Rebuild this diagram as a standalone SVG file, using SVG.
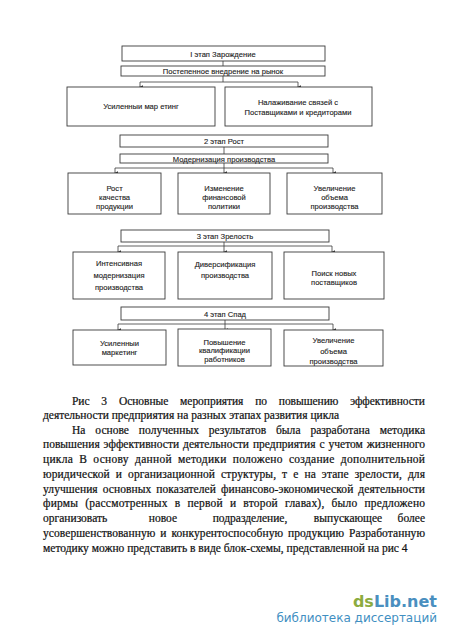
<svg xmlns="http://www.w3.org/2000/svg" width="450" height="639" viewBox="0 0 450 639">
<defs>
<style>
.bx{fill:#fff;stroke:#3a3a3a;stroke-width:0.9}
.ln{fill:none;stroke:#3a3a3a;stroke-width:0.8}
.t{font-family:"Liberation Sans",Arial,sans-serif;font-size:7.6px;fill:#222;stroke:#222;stroke-width:0.12;text-anchor:middle}
.b{font-family:"Liberation Serif","Times New Roman",serif;font-size:11.5px;fill:#111;stroke:#111;stroke-width:0.22}
.wm1{font-family:"DejaVu Sans",sans-serif;font-size:16px;font-weight:bold}
.wm2{font-family:"DejaVu Sans",sans-serif;font-size:12px;fill:#3f8fc2}
</style>
<marker id="ar" viewBox="0 0 6 6" refX="3" refY="5" markerWidth="4" markerHeight="4" orient="auto-start-reverse" markerUnits="userSpaceOnUse">
<path d="M0,0 L6,0 L3,6 z" fill="#333"/>
</marker>
</defs>
<rect width="450" height="639" fill="#fff"/>

<g id="connectors">
<path class="ln" d="M223,61 V66"/>
<path class="ln" d="M223,76 V82 M140,82 H298"/>
<path class="ln" d="M140,82 V87" marker-end="url(#ar)"/>
<path class="ln" d="M298,82 V87" marker-end="url(#ar)"/>

<path class="ln" d="M224,147 V154"/>
<path class="ln" d="M224,163 V168 M115,168 H333"/>
<path class="ln" d="M115,168 V173" marker-end="url(#ar)"/>
<path class="ln" d="M224,168 V173" marker-end="url(#ar)"/>
<path class="ln" d="M333,168 V173" marker-end="url(#ar)"/>

<path class="ln" d="M224,242 V246 M118,246 H332"/>
<path class="ln" d="M118,246 V252" marker-end="url(#ar)"/>
<path class="ln" d="M224,246 V252" marker-end="url(#ar)"/>
<path class="ln" d="M332,246 V252" marker-end="url(#ar)"/>

<path class="ln" d="M225,320 V324 M118,324 H333"/>
<path class="ln" d="M118,324 V330" marker-end="url(#ar)"/>
<path class="ln" d="M225,324 V330" marker-end="url(#ar)"/>
<path class="ln" d="M333,324 V330" marker-end="url(#ar)"/>
</g>

<g id="stage1">
<rect class="bx" x="122" y="46" width="203" height="15"/>
<text class="t" x="223" y="56.5">I этап  Зарождение</text>
</g>
<g id="market-entry">
<rect class="bx" x="121" y="66" width="204" height="10"/>
<text class="t" x="223" y="73.8">Постепенное внедрение на рынок</text>
</g>
<g id="s1-marketing">
<rect class="bx" x="67" y="87" width="148" height="39"/>
<text class="t" x="141" y="109">Усиленныи мар етинг</text>
</g>
<g id="s1-relations">
<rect class="bx" x="225" y="87" width="147" height="39"/>
<text class="t" x="298" y="104.5">Налаживание связей с</text>
<text class="t" x="298" y="115">Поставщиками и кредиторами</text>
</g>

<g id="stage2">
<rect class="bx" x="120" y="135" width="208" height="12"/>
<text class="t" x="224" y="144">2 этап  Рост</text>
</g>
<g id="modernization">
<rect class="bx" x="120" y="154" width="208" height="9"/>
<text class="t" x="224" y="161.5">Модернизация производства</text>
</g>
<g id="s2-quality">
<rect class="bx" x="68" y="173" width="93" height="41"/>
<text class="t" x="114.5" y="191">Рост</text>
<text class="t" x="114.5" y="200">качества</text>
<text class="t" x="114.5" y="209">продукции</text>
</g>
<g id="s2-finance">
<rect class="bx" x="178" y="173" width="92" height="41"/>
<text class="t" x="224" y="191">Изменение</text>
<text class="t" x="224" y="200">финансовой</text>
<text class="t" x="224" y="209">политики</text>
</g>
<g id="s2-volume">
<rect class="bx" x="287" y="173" width="95" height="41"/>
<text class="t" x="334.5" y="191">Увеличение</text>
<text class="t" x="334.5" y="200">объема</text>
<text class="t" x="334.5" y="209">производства</text>
</g>

<g id="stage3">
<rect class="bx" x="121" y="230" width="208" height="12"/>
<text class="t" x="225" y="239">3 этап  Зрелость</text>
</g>
<g id="s3-intensive">
<rect class="bx" x="73" y="252" width="92" height="47"/>
<text class="t" x="119" y="266">Интенсивная</text>
<text class="t" x="119" y="278">модернизация</text>
<text class="t" x="119" y="290">производства</text>
</g>
<g id="s3-diversification">
<rect class="bx" x="178" y="252" width="94" height="47"/>
<text class="t" x="225" y="267">Диверсификация</text>
<text class="t" x="225" y="278">производства</text>
</g>
<g id="s3-suppliers">
<rect class="bx" x="284" y="252" width="100" height="47"/>
<text class="t" x="334" y="276">Поиск новых</text>
<text class="t" x="334" y="285">поставщиков</text>
</g>

<g id="stage4">
<rect class="bx" x="121" y="307" width="208" height="13"/>
<text class="t" x="225" y="316.5">4 этап  Спад</text>
</g>
<g id="s4-marketing">
<rect class="bx" x="73" y="330" width="93" height="35"/>
<text class="t" x="119.5" y="346">Усиленныи</text>
<text class="t" x="119.5" y="355">маркетинг</text>
</g>
<g id="s4-qualification">
<rect class="bx" x="178" y="329" width="93" height="37"/>
<text class="t" x="224.5" y="345">Повышение</text>
<text class="t" x="224.5" y="353">квалификации</text>
<text class="t" x="224.5" y="362">работников</text>
</g>
<g id="s4-volume">
<rect class="bx" x="284" y="330" width="99" height="36"/>
<text class="t" x="333.5" y="343">Увеличение</text>
<text class="t" x="333.5" y="353.5">объема</text>
<text class="t" x="333.5" y="364">производства</text>
</g>

<g id="body-text" class="b">
<text x="72" y="405" textLength="353" lengthAdjust="spacing" word-spacing="9">Рис  3  Основные мероприятия по повышению эффективности</text>
<text x="43" y="419">деятельности предприятия на разных этапах развития цикла</text>
<text x="72" y="433.5" textLength="353" lengthAdjust="spacing" word-spacing="7">На основе полученных результатов была разработана методика</text>
<text x="43" y="448" textLength="382" lengthAdjust="spacing" word-spacing="1">повышения эффективности деятельности предприятия с учетом жизненного</text>
<text x="43" y="463" textLength="382" lengthAdjust="spacing" word-spacing="3">цикла  В основу данной методики положено создание дополнительной</text>
<text x="43" y="478" textLength="382" lengthAdjust="spacing" word-spacing="3">юридической и организационной структуры, т е  на этапе зрелости, для</text>
<text x="43" y="493" textLength="382" lengthAdjust="spacing" word-spacing="2">улучшения основных показателей финансово-экономической деятельности</text>
<text x="43" y="507" textLength="382" lengthAdjust="spacing" word-spacing="4">фирмы (рассмотренных в первой и второй главах), было предложено</text>
<text x="43" y="522">организовать</text>
<text x="163" y="522" text-anchor="middle">новое</text>
<text x="250" y="522" text-anchor="middle">подразделение,</text>
<text x="348" y="522" text-anchor="middle">выпускающее</text>
<text x="425" y="522" text-anchor="end">более</text>
<text x="43" y="537" textLength="382" lengthAdjust="spacing" word-spacing="2">усовершенствованную и конкурентоспособную продукцию  Разработанную</text>
<text x="43" y="552">методику можно представить в виде блок-схемы, представленной на рис  4</text>
</g>

<g id="watermark">
<text class="wm1" x="437" y="607" text-anchor="end"><tspan fill="#8cab3f">ds</tspan><tspan fill="#4a8fbf">Lib.net</tspan></text>
<text class="wm2" x="437" y="622" text-anchor="end">библиотека диссертаций</text>
</g>
</svg>
